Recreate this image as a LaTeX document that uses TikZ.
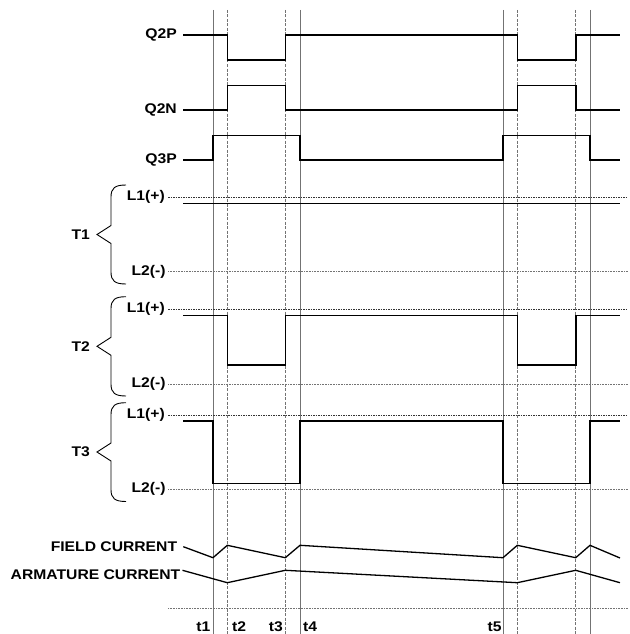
\documentclass[tikz,border=0pt]{standalone}
\usepackage{fontspec}
\newfontfamily\labfont{Liberation Sans}[FakeStretch=1.12]
\begin{document}
\begin{tikzpicture}[x=1pt,y=-1pt,
  lab/.style={font=\labfont\bfseries\fontsize{14}{14}\selectfont, inner sep=0pt},
  sig/.style={line width=1.6pt, line join=miter},
  guidesolid/.style={black!55, line width=0.75pt},
  guidedash/.style={black!55, line width=0.75pt, dash pattern=on 3pt off 1.5pt},
  lineone/.style={black!80, line width=0.6pt, dash pattern=on 1.5pt off 1pt},
  linetwo/.style={black!55, line width=1pt, dash pattern=on 1pt off 0.6pt},
  bracestyle/.style={line width=0.9pt}]
\useasboundingbox (0,0) rectangle (629,634);
\def\xs{183.3}\def\xr{620}
\def\xa{213}\def\xb{227.3}\def\xc{285.3}\def\xd{300}
\def\xe{503}\def\xf{517.3}\def\xg{575.7}\def\xh{590}
% guide lines
\foreach \x in {\xa,\xd,\xe,\xh} \draw[guidesolid] (\x,10) -- (\x,634);
\foreach \x in {\xb,\xc,\xf,\xg} \draw[guidedash] (\x,10) -- (\x,634);
% level lines
\foreach \y in {197.3,309.3,415} \draw[lineone] (168,\y) -- (628,\y);
\foreach \y in {271.7,384,489.3,608.3} \draw[linetwo] (168,\y) -- (628,\y);
% labels
\node[lab, anchor=east] (q2p) at (177,35) {Q2P};
\node[lab, anchor=east] (q2n) at (177,110) {Q2N};
\node[lab, anchor=east] (q3p) at (177,160) {Q3P};
\foreach \t/\top/\mid/\bot/\la/\lb in {1/185/234.5/284/197.3/271.7, 2/296.7/346.3/396/309.3/384, 3/402.7/452/501.5/415/489.3}{
  \node[lab, anchor=east] (l1t\t) at (165,\la) {L1(+)};
  \node[lab, anchor=east] (l2t\t) at (165.7,\lb) {L2(-)};
  \node[lab, anchor=east] (tt\t) at (90,\mid) {T\t};
  \draw[bracestyle] (126,\top) .. controls (115,\top) and (111,\top+3) .. (111,\top+12)
    -- (111,\mid-9) -- (97,\mid) -- (111,\mid+9) -- (111,\bot-12)
    .. controls (111,\bot-3) and (115,\bot) .. (126,\bot);
}
\node[lab, anchor=east] (fc) at (177.3,546.7) {FIELD CURRENT};
\node[lab, anchor=east] (ac) at (180.5,574.3) {ARMATURE CURRENT};
\node[lab, anchor=base east] (t1) at (210.5,631.5) {t1};
\node[lab, anchor=base west] (t2) at (232,631.5) {t2};
\node[lab, anchor=base east] (t3) at (283,631.5) {t3};
\node[lab, anchor=base west] (t4) at (303,631.5) {t4};
\node[lab, anchor=base east] (t5) at (501.7,631.5) {t5};
% signals
\draw[sig] (\xs,35) -- (\xb,35) -- (\xb,60.3) -- (\xc,60.3) -- (\xc,35) -- (\xf,35) -- (\xf,60.3) -- (\xg,60.3) -- (\xg,35) -- (\xr,35);
\draw[sig] (\xs,110) -- (\xb,110) -- (\xb,85.3) -- (\xc,85.3) -- (\xc,110) -- (\xf,110) -- (\xf,85.3) -- (\xg,85.3) -- (\xg,110) -- (\xr,110);
\draw[sig] (\xs,159.7) -- (\xa,159.7) -- (\xa,135.3) -- (\xd,135.3) -- (\xd,159.7) -- (\xe,159.7) -- (\xe,135.3) -- (\xh,135.3) -- (\xh,159.7) -- (\xr,159.7);
\draw[sig] (\xs,203.3) -- (\xr,203.3);
\draw[sig] (\xs,315.3) -- (\xb,315.3) -- (\xb,365) -- (\xc,365) -- (\xc,315.3) -- (\xf,315.3) -- (\xf,365) -- (\xg,365) -- (\xg,315.3) -- (\xr,315.3);
\draw[sig] (\xs,420.7) -- (\xa,420.7) -- (\xa,483.3) -- (\xd,483.3) -- (\xd,420.7) -- (\xe,420.7) -- (\xe,483.3) -- (\xh,483.3) -- (\xh,420.7) -- (\xr,420.7);
% currents
\draw[sig, line width=1.3pt] (fc.east) ++(6,0) -- (\xa,557.7) -- (\xb,545.3) -- (\xc,557.7) -- (\xd,545.3) -- (\xe,557.7) -- (\xf,545.3) -- (\xg,557.7) -- (\xh,545.3) -- (\xr,558);
\draw[sig, line width=1.3pt] (ac.east) ++(2,-4) -- (\xb,582.7) -- (\xc,570.3) -- (\xf,582.7) -- (\xg,570.3) -- (\xr,582.7);
\end{tikzpicture}
\end{document}
